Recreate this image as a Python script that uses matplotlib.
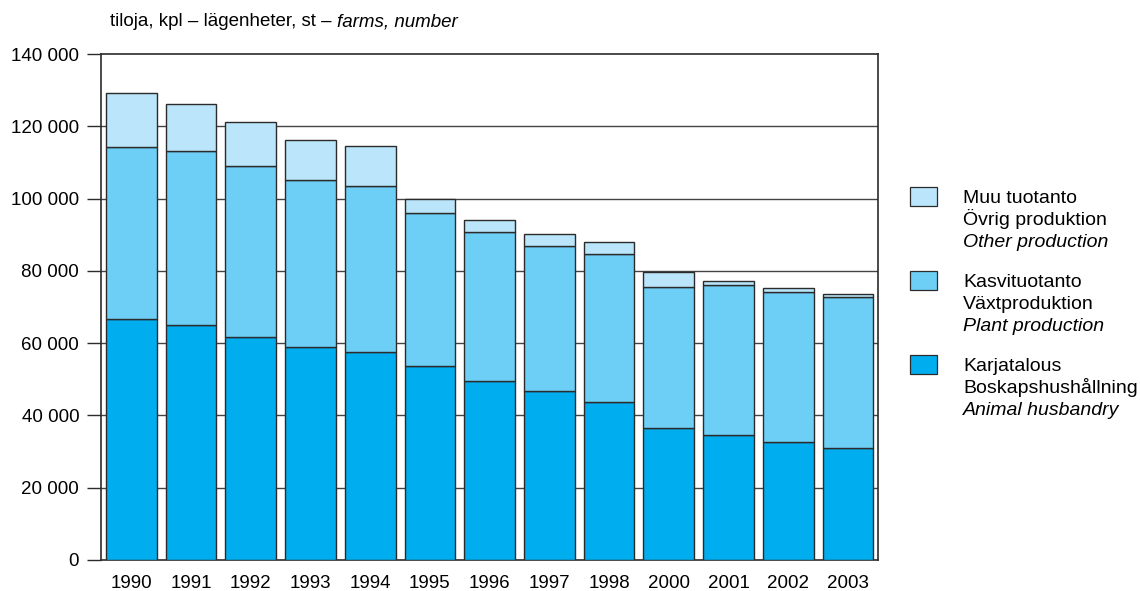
import matplotlib.pyplot as plt
from matplotlib.patches import Rectangle
import numpy as np

plt.rcParams['font.family'] = ['Liberation Sans', 'DejaVu Sans']

years = ["1990", "1991", "1992", "1993", "1994", "1995", "1996",
         "1997", "1998", "2000", "2001", "2002", "2003"]
# cumulative tops (thousands)
animal = [66.7, 64.9, 61.7, 59.0, 57.5, 53.6, 49.6, 46.7, 43.7, 36.5, 34.6, 32.7, 31.0]
plant_top = [114.4, 113.3, 109.1, 105.1, 103.4, 96.0, 90.9, 87.0, 84.8, 75.5, 76.2, 74.2, 72.8]
total = [129.2, 126.1, 121.3, 116.3, 114.5, 100.0, 94.1, 90.2, 88.0, 79.8, 77.3, 75.2, 73.6]

animal = np.array(animal) * 1000
plant = np.array(plant_top) * 1000 - animal
other = np.array(total) * 1000 - np.array(plant_top) * 1000

c_animal = "#00adee"
c_plant = "#6dcff6"
c_other = "#bae5fa"
edge = "#2b2b2b"
fs = 13.5

fig = plt.figure(figsize=(11.4, 5.91), dpi=100)
ax = fig.add_axes([0.089, 0.0525, 0.681, 0.856])

x = np.arange(len(years))
w = 0.85
ax.bar(x, animal, w, color=c_animal, edgecolor=edge, linewidth=1, zorder=3)
ax.bar(x, plant, w, bottom=animal, color=c_plant, edgecolor=edge, linewidth=1, zorder=3)
ax.bar(x, other, w, bottom=animal + plant, color=c_other, edgecolor=edge, linewidth=1, zorder=3)

ax.set_xlim(-0.5, 12.5)
ax.set_ylim(0, 140000)
yt = np.arange(0, 140001, 20000)
ax.set_yticks(yt)
ax.set_yticklabels([f"{v:,}".replace(",", " ") for v in yt], fontsize=fs)
ax.set_xticks(x)
ax.set_xticklabels(years, fontsize=fs)
ax.tick_params(axis="x", length=0, pad=11)
ax.tick_params(axis="y", length=10, width=1, color=edge, pad=6)
for v in yt[1:-1]:
    ax.axhline(v, color="#444444", linewidth=1, zorder=1)
for s in ax.spines.values():
    s.set_color(edge)
    s.set_linewidth(1.2)

# title: normal part then italic part right after it
t1 = fig.text(110 / 1140, 1 - 22 / 591, "tiloja, kpl – lägenheter, st – ", fontsize=fs, va="center")
fig.canvas.draw()
bb = t1.get_window_extent()
fig.text(bb.x1 / 1140, 1 - 22 / 591, "farms, number", fontsize=fs, style="italic", va="center")

legend = [
    (c_other, "Muu tuotanto", "Övrig produktion", "Other production"),
    (c_plant, "Kasvituotanto", "Växtproduktion", "Plant production"),
    (c_animal, "Karjatalous", "Boskapshushållning", "Animal husbandry"),
]
lfs = 14
for i, (col, l1, l2, l3) in enumerate(legend):
    y0 = 187 + i * 84
    fig.patches.append(Rectangle((910 / 1140, 1 - (y0 + 19) / 591), 27 / 1140, 19 / 591,
                                 transform=fig.transFigure, facecolor=col,
                                 edgecolor=edge, linewidth=0.9))
    fig.text(963 / 1140, 1 - (y0 + 16) / 591, l1, fontsize=lfs, va="baseline")
    fig.text(963 / 1140, 1 - (y0 + 38) / 591, l2, fontsize=lfs, va="baseline")
    fig.text(963 / 1140, 1 - (y0 + 60) / 591, l3, fontsize=lfs, va="baseline", style="italic")

fig.savefig("out.png", dpi=100)
